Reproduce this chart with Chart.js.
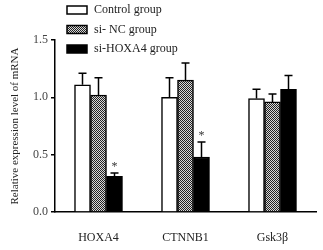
<!DOCTYPE html>
<html>
<head>
<meta charset="utf-8">
<script src="https://cdn.jsdelivr.net/npm/chart.js@4/dist/chart.umd.min.js"></script>
<style>
  body { margin: 0; background: #fff; }
  #wrap { width: 323px; height: 250px; }
</style>
</head>
<body>
<div id="wrap"><canvas id="mrnaChart"></canvas></div>
<script>
// values
const genes = ['HOXA4', 'CTNNB1', 'Gsk3\u03b2'];
const groupNames = ['Control group', 'si- NC group', 'si-HOXA4 group'];
const controlMean = [1.11, 1.00, 0.99];
const siNcMean = [1.02, 1.15, 0.96];
const siHoxa4Mean = [0.31, 0.48, 1.07];
const controlErr = [0.10, 0.17, 0.08];
const siNcErr = [0.15, 0.15, 0.07];
const siHoxa4Err = [0.03, 0.13, 0.12];
const siHoxa4Sig = [true, true, false];
const yTicks = [0, 0.5, 1.0, 1.5];

const serif = "'Liberation Serif', 'DejaVu Serif', serif";

function dotPattern() {
  const c = document.createElement('canvas');
  c.width = 2; c.height = 2;
  const g = c.getContext('2d');
  g.fillStyle = '#d8d8d8';
  g.fillRect(0, 0, 2, 2);
  g.fillStyle = '#222';
  g.fillRect(0, 0, 1, 1);
  g.fillRect(1, 1, 1, 1);
  return g.createPattern(c, 'repeat');
}
const hatch = dotPattern();

const fills = ['#ffffff', hatch, '#000000'];

// error bars (upper only) and significance stars
const errorBars = {
  id: 'errorBars',
  afterDatasetsDraw(chart) {
    const ctx = chart.ctx;
    const y = chart.scales.y;
    ctx.save();
    ctx.strokeStyle = '#000';
    ctx.lineWidth = 1.5;
    chart.data.datasets.forEach((ds, i) => {
      const meta = chart.getDatasetMeta(i);
      meta.data.forEach((bar, j) => {
        const top = y.getPixelForValue(ds.data[j] + ds.err[j]);
        ctx.beginPath();
        ctx.moveTo(bar.x, bar.y);
        ctx.lineTo(bar.x, top);
        ctx.moveTo(bar.x - 4, top);
        ctx.lineTo(bar.x + 4, top);
        ctx.stroke();
        if (ds.sig && ds.sig[j]) {
          ctx.fillStyle = '#333';
          ctx.font = '12px ' + serif;
          ctx.textAlign = 'center';
          ctx.textBaseline = 'middle';
          ctx.fillText('*', bar.x, top - 6);
        }
      });
    });
    ctx.restore();
  }
};

// legend stacked in the upper left of the plot
const boxLegend = {
  id: 'boxLegend',
  afterDraw(chart) {
    const ctx = chart.ctx;
    ctx.save();
    ctx.font = '12px ' + serif;
    ctx.textBaseline = 'middle';
    ctx.textAlign = 'left';
    chart.data.datasets.forEach((ds, i) => {
      const cy = 10 + i * 19.5;
      ctx.fillStyle = ds.backgroundColor;
      ctx.fillRect(67, cy - 4, 20, 8);
      ctx.strokeStyle = '#000';
      ctx.lineWidth = 1.5;
      ctx.strokeRect(67, cy - 4, 20, 8);
      ctx.fillStyle = '#222';
      ctx.fillText(ds.label, 94, cy);
    });
    ctx.restore();
  }
};

const means = [controlMean, siNcMean, siHoxa4Mean];
const errs = [controlErr, siNcErr, siHoxa4Err];

new Chart(document.getElementById('mrnaChart'), {
  type: 'bar',
  data: {
    labels: genes,
    datasets: groupNames.map((name, i) => ({
      label: name,
      data: means[i],
      err: errs[i],
      sig: i === 2 ? siHoxa4Sig : null,
      backgroundColor: fills[i],
      borderColor: '#000',
      borderWidth: 1.5,
      barThickness: 16
    }))
  },
  options: {
    responsive: true,
    maintainAspectRatio: false,
    animation: false,
    layout: { padding: { top: 40, right: 7, bottom: 0, left: 0 } },
    plugins: {
      legend: { display: false },
      tooltip: { enabled: false }
    },
    scales: {
      x: {
        afterFit(scale) { scale.height = 38; },
        grid: { drawOnChartArea: false, drawTicks: false },
        border: { color: '#000', width: 1.5 },
        ticks: { color: '#222', padding: 19, font: { family: serif, size: 12 } }
      },
      y: {
        min: 0,
        max: 1.5,
        afterFit(scale) { scale.width = 55; },
        afterBuildTicks(scale) { scale.ticks = yTicks.map(v => ({ value: v })); },
        grid: { drawOnChartArea: false, drawTicks: true, tickLength: 4, color: '#000', lineWidth: 1.5 },
        border: { color: '#000', width: 1.5 },
        ticks: {
          color: '#444',
          padding: 3,
          font: { family: serif, size: 12 },
          callback: v => v.toFixed(1)
        },
        title: {
          display: true,
          text: 'Relative expression level of mRNA',
          color: '#222',
          padding: { top: 9, bottom: 0 },
          font: { family: serif, size: 11 }
        }
      }
    }
  },
  plugins: [errorBars, boxLegend]
});
</script>
</body>
</html>
